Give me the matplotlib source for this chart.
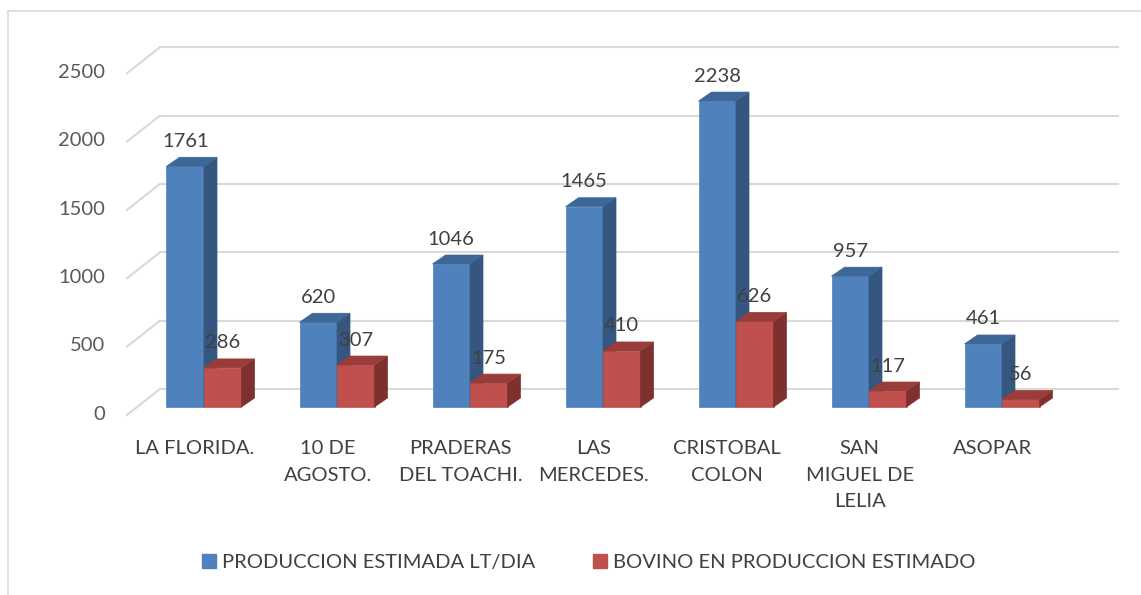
import matplotlib.pyplot as plt
from matplotlib.patches import Polygon, Patch
from matplotlib.lines import Line2D

plt.rcParams['font.family'] = ['Lato', 'DejaVu Sans']

# datos
categorias = ["LA FLORIDA.", "10 DE\nAGOSTO.", "PRADERAS\nDEL TOACHI.", "LAS\nMERCEDES.",
              "CRISTOBAL\nCOLON", "SAN\nMIGUEL DE\nLELIA", "ASOPAR"]
produccion = [1761, 620, 1046, 1465, 2238, 957, 461]
bovinos = [286, 307, 175, 410, 626, 117, 56]
series = ["PRODUCCION ESTIMADA LT/DIA", "BOVINO EN PRODUCCION ESTIMADO"]
ticks = [0, 500, 1000, 1500, 2000, 2500]

# colores: frente, costado, tapa
azul = ("#4f81bd", "#34567f", "#3d6796")
rojo = ("#c0504d", "#7e302e", "#9a3c3a")
gris = "#d9d9d9"

fig = plt.figure(figsize=(11.41, 5.95), dpi=100)
ax = fig.add_axes([0, 0, 1, 1])
# escala lineal: 133 px por categoria, 0.1367 px por unidad
px_x = 133.0
px_y = 0.1367
ax.set_xlim(-204 / px_x, (1141 - 204) / px_x)
ax.set_ylim(-188 / px_y, 407 / px_y)
ax.axis('off')

# profundidad 3D (en unidades de datos)
dx = 13 / px_x
dy = 9 / px_y
wall_x0, wall_y0 = -0.579, -58.5   # frente del piso
wall_x1, wall_y1 = -0.331, 132.0   # fondo
wall_end = (1118 - 204) / px_x

fs = 14.5

# cuadricula
for v in ticks:
    ax.plot([wall_x0, wall_x1], [v + wall_y0, v + wall_y1], color=gris, lw=1.5, zorder=1)
    ax.plot([wall_x1, wall_end], [v + wall_y1, v + wall_y1], color=gris, lw=1.5, zorder=1)
    ax.text(-0.744, v - 52, str(v), ha='right', va='center', fontsize=fs, color='#595959')


def barra3d(x0, w, h, cols, z):
    fr, lado, tapa = cols
    ax.add_patch(Polygon([(x0, 0), (x0 + w, 0), (x0 + w, h), (x0, h)],
                         closed=True, fc=fr, ec=fr, lw=0.5, zorder=z))
    ax.add_patch(Polygon([(x0 + w, 0), (x0 + w + dx, dy), (x0 + w + dx, h + dy), (x0 + w, h)],
                         closed=True, fc=lado, ec=lado, lw=0.5, zorder=z))
    ax.add_patch(Polygon([(x0, h), (x0 + w, h), (x0 + w + dx, h + dy), (x0 + dx, h + dy)],
                         closed=True, fc=tapa, ec=tapa, lw=0.5, zorder=z))


w = 37.5 / px_x
for i, (p, b) in enumerate(zip(produccion, bovinos)):
    barra3d(i - w, w, p, azul, 2 + 2 * i)
    barra3d(i, w, b, rojo, 3 + 2 * i)
    ax.text(i - w / 2, p + 25 / px_y, str(p), ha='center', va='center',
            fontsize=fs, color='#404040', zorder=20)
    ax.text(i + w / 2, b + 25 / px_y, str(b), ha='center', va='center',
            fontsize=fs, color='#404040', zorder=20)
    ax.text(i - 0.07, -33 / px_y, categorias[i], ha='center', va='top',
            fontsize=fs, color='#404040', linespacing=1.68)

# borde exterior
ax.add_line(Line2D([8 / 1141, 1], [1 - 11 / 595, 1 - 11 / 595], transform=fig.transFigure, color=gris, lw=1.2))
ax.add_line(Line2D([8 / 1141, 8 / 1141], [0, 1 - 11 / 595], transform=fig.transFigure, color=gris, lw=1.2))

handles = [Patch(color=azul[0]), Patch(color=rojo[0])]
fig.legend(handles, series, loc='center', bbox_to_anchor=(0.516, 0.054), ncol=2,
           frameon=False, fontsize=fs, handlelength=0.7, handleheight=0.7,
           handletextpad=0.3, columnspacing=2.9, labelcolor='#404040')

fig.savefig('out.png', dpi=100)
